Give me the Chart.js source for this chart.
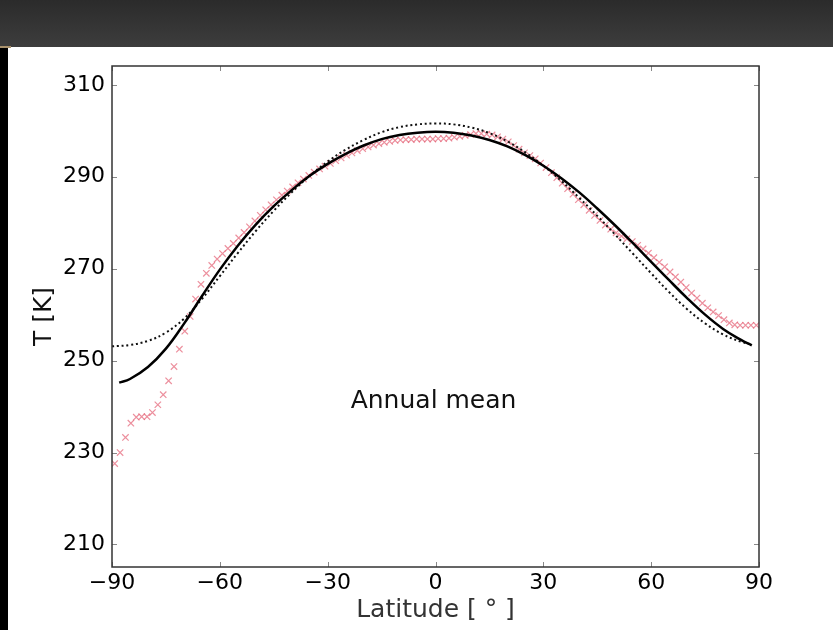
<!DOCTYPE html>
<html>
<head>
<meta charset="utf-8">
<script src="https://cdn.jsdelivr.net/npm/chart.js@4"></script>
<style>
  html, body { margin: 0; padding: 0; background: #fff; }
  canvas { display: block; }
</style>
</head>
<body>
<canvas id="myfirstchart1" width="833" height="630"></canvas>
<script>
// model, solid line
const solidLat = [-88, -85, -80, -75, -70, -65, -60, -55, -50, -45, -40, -35, -30, -25, -20, -15, -10, -5, 0, 5, 10, 15, 20, 25, 30, 35, 40, 45, 50, 55, 60, 65, 70, 75, 80, 85, 88];
const solidT = [245.2, 246.0, 248.6, 252.6, 258.0, 264.0, 269.8, 275.0, 279.6, 283.6, 287.1, 290.2, 292.8, 295.0, 296.8, 298.2, 299.1, 299.6, 299.8, 299.6, 299.0, 298.0, 296.6, 294.7, 292.4, 289.7, 286.6, 283.1, 279.4, 275.5, 271.5, 267.5, 263.6, 260.0, 256.9, 254.5, 253.3];

// model, dotted line
const dottedLat = [-90, -85, -80, -75, -70, -65, -60, -55, -50, -45, -40, -35, -30, -25, -20, -15, -10, -5, 0, 5, 10, 15, 20, 25, 30, 35, 40, 45, 50, 55, 60, 65, 70, 75, 80, 85, 88];
const dottedT = [253.1, 253.4, 254.3, 256.1, 259.1, 263.4, 268.4, 273.4, 278.2, 282.6, 286.6, 290.2, 293.3, 295.9, 298.0, 299.7, 300.8, 301.4, 301.6, 301.4, 300.7, 299.5, 297.7, 295.3, 292.4, 289.1, 285.4, 281.5, 277.4, 273.2, 269.0, 264.9, 261.2, 258.1, 255.7, 254.1, 253.5];

// observations (red crosses)
const obsLat = [-89.25, -87.75, -86.25, -84.75, -83.25, -81.75, -80.25, -78.75, -77.25, -75.75,
  -74.25, -72.75, -71.25, -69.75, -68.25, -66.75, -65.25, -63.75, -62.25, -60.75,
  -59.25, -57.75, -56.25, -54.75, -53.25, -51.75, -50.25, -48.75, -47.25, -45.75,
  -44.25, -42.75, -41.25, -39.75, -38.25, -36.75, -35.25, -33.75, -32.25, -30.75,
  -29.25, -27.75, -26.25, -24.75, -23.25, -21.75, -20.25, -18.75, -17.25, -15.75,
  -14.25, -12.75, -11.25, -9.75, -8.25, -6.75, -5.25, -3.75, -2.25, -0.75,
  0.75, 2.25, 3.75, 5.25, 6.75, 8.25, 9.75, 11.25, 12.75, 14.25,
  15.75, 17.25, 18.75, 20.25, 21.75, 23.25, 24.75, 26.25, 27.75, 29.25,
  30.75, 32.25, 33.75, 35.25, 36.75, 38.25, 39.75, 41.25, 42.75, 44.25,
  45.75, 47.25, 48.75, 50.25, 51.75, 53.25, 54.75, 56.25, 57.75, 59.25,
  60.75, 62.25, 63.75, 65.25, 66.75, 68.25, 69.75, 71.25, 72.75, 74.25,
  75.75, 77.25, 78.75, 80.25, 81.75, 83.25, 84.75, 86.25, 87.75, 89.25];
const obsT = [227.6, 230.0, 233.3, 236.4, 237.7, 237.8, 237.8, 238.7, 240.4, 242.6,
  245.6, 248.7, 252.5, 256.4, 259.6, 263.4, 266.6, 269.0, 270.7, 272.1,
  273.3, 274.4, 275.5, 276.7, 277.9, 279.1, 280.4, 281.6, 282.8, 283.9,
  285.0, 286.0, 286.9, 287.8, 288.7, 289.5, 290.3, 291.0, 291.7, 292.3,
  292.9, 293.5, 294.1, 294.7, 295.2, 295.7, 296.1, 296.5, 296.9, 297.2,
  297.5, 297.7, 297.9, 298.0, 298.1, 298.1, 298.2, 298.2, 298.2, 298.2,
  298.3, 298.3, 298.4, 298.6, 298.8, 299.0, 299.2, 299.4, 299.4, 299.3,
  299.1, 298.7, 298.2, 297.6, 296.8, 296.0, 295.2, 294.6, 293.9, 293.0,
  292.0, 290.9, 289.8, 288.6, 287.4, 286.2, 285.0, 283.9, 282.7, 281.6,
  280.5, 279.5, 278.6, 277.8, 277.1, 276.5, 275.9, 275.1, 274.3, 273.4,
  272.4, 271.4, 270.4, 269.3, 268.2, 267.1, 265.9, 264.7, 263.6, 262.5,
  261.5, 260.6, 259.8, 258.9, 258.2, 257.8, 257.7, 257.7, 257.7, 257.7];

const xTicks = [-90, -60, -30, 0, 30, 60, 90];
const yTicks = [210, 230, 250, 270, 290, 310];
const noteText = "Annual mean";
const notePos = { x: -23.6, y: 241.2 };

const toPoints = (xs, ys) => xs.map((x, i) => ({ x: x, y: ys[i] }));

const pageBackground = {
    id: "pageBackground",
    beforeDraw(chart) {
        const ctx = chart.ctx;
        ctx.save();
        ctx.fillStyle = "#ffffff";
        ctx.fillRect(0, 0, chart.width, chart.height);
        const g = ctx.createLinearGradient(0, 0, 0, 47);
        g.addColorStop(0, "#2b2b2b");
        g.addColorStop(1, "#3d3d3d");
        ctx.fillStyle = g;
        ctx.fillRect(0, 0, chart.width, 47);
        ctx.fillStyle = "#000000";
        ctx.fillRect(0, 47, 8, chart.height - 47);
        ctx.fillStyle = "#a8916c";
        ctx.fillRect(0, 46, 11, 2);
        ctx.restore();
    }
};

const frameAndTicks = {
    id: "frameAndTicks",
    afterDatasetsDraw(chart) {
        const ctx = chart.ctx;
        const a = chart.chartArea;
        const xs = chart.scales.x, ys = chart.scales.y;
        ctx.save();
        ctx.strokeStyle = "#888";
        ctx.lineWidth = 1;
        ctx.beginPath();
        xTicks.forEach(v => {
            const px = Math.round(xs.getPixelForValue(v)) + 0.5;
            ctx.moveTo(px, a.bottom); ctx.lineTo(px, a.bottom - 5);
            ctx.moveTo(px, a.top); ctx.lineTo(px, a.top + 5);
        });
        yTicks.forEach(v => {
            const py = Math.round(ys.getPixelForValue(v)) + 0.5;
            ctx.moveTo(a.left, py); ctx.lineTo(a.left + 5, py);
            ctx.moveTo(a.right, py); ctx.lineTo(a.right - 5, py);
        });
        ctx.stroke();
        ctx.strokeStyle = "#333";
        ctx.lineWidth = 1.5;
        ctx.strokeRect(a.left, a.top, a.right - a.left, a.bottom - a.top);
        // annotation
        ctx.fillStyle = "#111";
        ctx.font = "25px 'DejaVu Sans'";
        ctx.textAlign = "left";
        ctx.textBaseline = "middle";
        ctx.fillText(noteText, xs.getPixelForValue(notePos.x), ys.getPixelForValue(notePos.y));
        ctx.restore();
    }
};

new Chart(document.getElementById("myfirstchart1"), {
    type: "line",
    data: {
        datasets: [
            {
                label: "model",
                data: toPoints(solidLat, solidT),
                borderColor: "#000",
                borderWidth: 2.5,
                pointRadius: 0,
                tension: 0.4,
                fill: false,
                order: 0
            },
            {
                label: "model (dotted)",
                data: toPoints(dottedLat, dottedT),
                borderColor: "#111",
                borderWidth: 2,
                borderDash: [2, 2.8],
                pointRadius: 0,
                tension: 0.4,
                fill: false,
                order: 1
            },
            {
                label: "observed",
                data: toPoints(obsLat, obsT),
                showLine: false,
                pointStyle: "crossRot",
                pointRadius: 4.5,
                pointBorderWidth: 1.2,
                pointBorderColor: "rgba(228, 96, 116, 0.7)",
                pointBackgroundColor: "rgba(228, 96, 116, 0.7)",
                order: 2
            }
        ]
    },
    options: {
        responsive: false,
        animation: false,
        devicePixelRatio: 1,
        layout: { padding: { top: 66, right: 74, left: 0, bottom: 0 } },
        plugins: { legend: { display: false }, tooltip: { enabled: false } },
        scales: {
            x: {
                type: "linear",
                min: -90,
                max: 90,
                afterFit: s => { s.height = 63; },
                afterBuildTicks: s => { s.ticks = xTicks.map(v => ({ value: v })); },
                grid: { display: false, drawTicks: false },
                border: { display: false },
                ticks: {
                    padding: 3,
                    color: "#000",
                    font: { family: "'DejaVu Sans'", size: 22 },
                    callback: v => v < 0 ? "\u2212" + Math.abs(v) : String(v)
                },
                title: {
                    display: true,
                    text: "Latitude [ \u00b0 ]",
                    color: "#333",
                    font: { family: "'DejaVu Sans'", size: 25 },
                    padding: { top: 0, bottom: 5 }
                }
            },
            y: {
                type: "linear",
                min: 205.1,
                max: 314.1,
                afterFit: s => { s.width = 112; },
                afterBuildTicks: s => { s.ticks = yTicks.map(v => ({ value: v })); },
                grid: { display: false, drawTicks: false },
                border: { display: false },
                ticks: {
                    padding: 7,
                    color: "#000",
                    font: { family: "'DejaVu Sans'", size: 22 }
                },
                title: {
                    display: true,
                    text: "T [K]",
                    color: "#111",
                    font: { family: "'DejaVu Sans'", size: 25 },
                    padding: { top: 29, bottom: 0 }
                }
            }
        }
    },
    plugins: [pageBackground, frameAndTicks]
});
</script>
</body>
</html>
